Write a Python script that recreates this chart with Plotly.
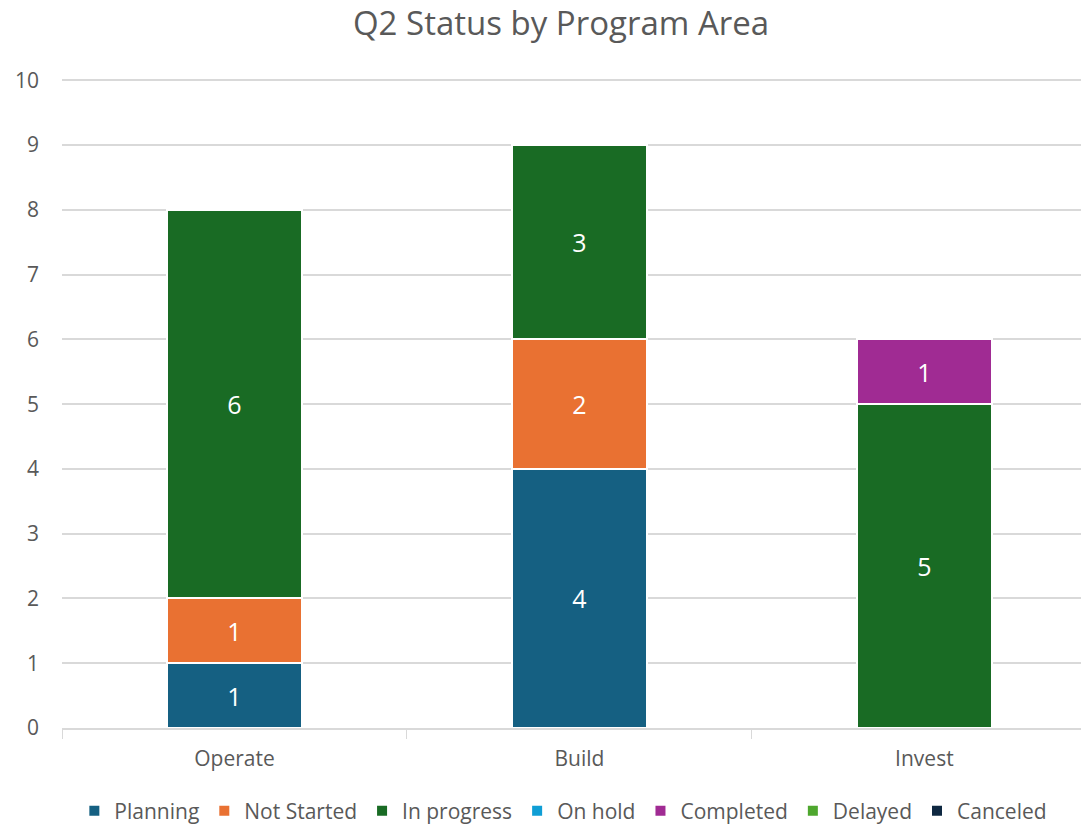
import plotly.graph_objects as go

categories = ["Operate", "Build", "Invest"]
series_names = ["Planning", "Not Started", "In progress", "On hold", "Completed", "Delayed", "Canceled"]
planning = [1, 4, 0]
not_started = [1, 2, 0]
in_progress = [6, 3, 5]
on_hold = [0, 0, 0]
completed = [0, 0, 1]
delayed = [0, 0, 0]
canceled = [0, 0, 0]
colors = ["#156082", "#E97132", "#196B24", "#0F9ED5", "#A02B93", "#4EA72E", "#0E2841"]
y_ticks = list(range(0, 11))

series_values = [planning, not_started, in_progress, on_hold, completed, delayed, canceled]

FONT = "Open Sans"
fig = go.Figure()
for name, vals, col in zip(series_names, series_values, colors):
    fig.add_trace(go.Bar(
        name=name,
        x=categories,
        y=[v if v else None for v in vals],
        text=[str(v) if v else "" for v in vals],
        textposition="inside",
        insidetextanchor="middle",
        textangle=0,
        textfont=dict(color="white", size=25, family=FONT),
        marker=dict(color=col, line=dict(color="white", width=2)),
        width=0.39,
        cliponaxis=False,
    ))

fig.update_layout(
    barmode="stack",
    width=1081, height=824,
    margin=dict(l=62, r=0, t=79, b=96, autoexpand=False),
    paper_bgcolor="white", plot_bgcolor="white",
    font=dict(family=FONT, color="#595959", size=21),
    title=dict(text="Q2 Status by Program Area", x=0.519, xanchor="center",
               yref="container", y=0.972, yanchor="middle",
               font=dict(size=33, color="#595959", family=FONT)),
    legend=dict(orientation="h", x=0.492, xanchor="center", y=-0.128, yanchor="middle",
                font=dict(size=21, color="#595959"), itemwidth=30, traceorder="normal"),
    uniformtext=dict(mode=False),
)
fig.update_xaxes(range=[-0.5, 2.454], showline=True, linecolor="#d9d9d9", linewidth=1.5,
                 ticks="outside", tickson="boundaries", ticklen=9, tickcolor="#d9d9d9",
                 tickfont=dict(size=21, color="#595959"), showgrid=False, automargin=False,
                 ticklabelstandoff=11)
fig.update_yaxes(range=[0, 10.02], tickvals=y_ticks, showgrid=True, gridcolor="#d9d9d9", gridwidth=1.5,
                 zeroline=False, ticks="", tickfont=dict(size=21, color="#595959"),
                 ticklabelstandoff=22, automargin=False)

fig.write_html("out.html", config={"displayModeBar": False},
               post_script="document.body.style.margin='0';")
